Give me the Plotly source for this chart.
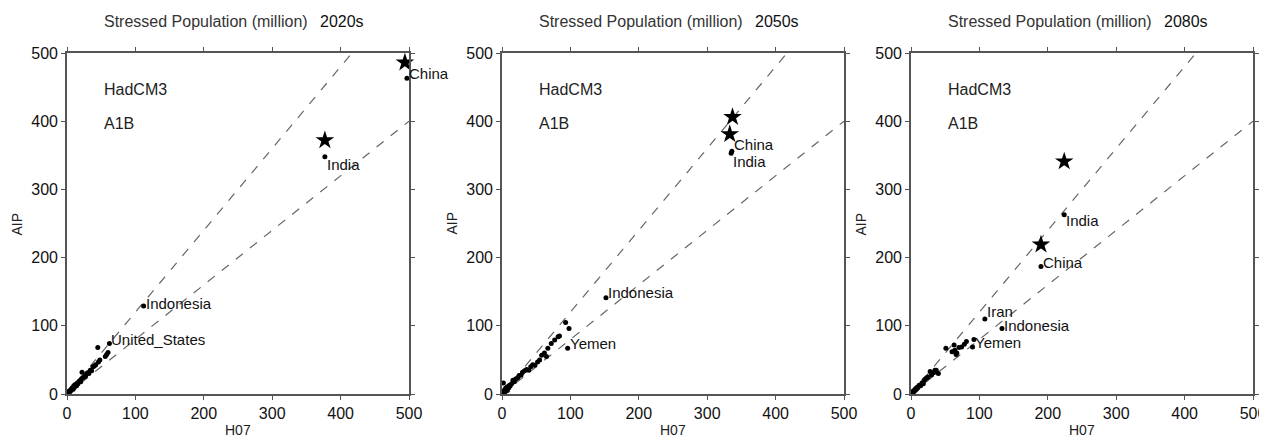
import plotly.graph_objects as go

# ---------------- data ----------------
periods = ["2020s", "2050s", "2080s"]

# 2020s
p1_x = [1, 2, 3, 4, 5, 6, 7, 8, 9, 10, 11, 12, 13, 14, 15, 16, 18, 20, 21, 22, 23, 25, 27, 28,
        30, 32, 34, 36, 38, 40, 42, 45, 46, 48, 56, 58, 60]
p1_y = [2, 1, 4, 3, 6, 5, 8, 9, 7, 12, 10, 14, 13, 12, 16, 15, 19, 18, 22, 32, 24, 25, 26, 29,
        31, 30, 35, 34, 40, 41, 43, 68, 47, 50, 55, 58, 61]
p1_lab = ["China", "India", "Indonesia", "United_States"]
p1_lab_x = [497, 377, 112, 62]
p1_lab_y = [463, 348, 129, 74]
p1_star_x = [494, 377]
p1_star_y = [486, 372]

# 2050s
p2_x = [1, 2, 2, 3, 4, 5, 6, 7, 8, 9, 10, 11, 12, 14, 16, 18, 20, 23, 25, 28, 30, 33, 36, 39,
        42, 45, 48, 52, 55, 58, 62, 65, 67, 72, 77, 82, 84, 93, 98]
p2_y = [3, 16, 1, 5, 2, 8, 6, 10, 5, 11, 9, 13, 12, 15, 20, 18, 22, 24, 27, 28, 32, 34, 36, 35,
        40, 43, 42, 47, 50, 57, 60, 55, 67, 74, 79, 84, 85, 105, 96]
p2_lab = ["China", "India", "Indonesia", "Yemen"]
p2_lab_x = [336, 335, 152, 96]
p2_lab_y = [356, 353, 141, 67]
p2_star_x = [337, 333]
p2_star_y = [406, 381]

# 2080s
p3_x = [1, 2, 3, 4, 5, 6, 7, 8, 9, 10, 12, 14, 16, 18, 19, 21, 23, 25, 28, 30, 33, 35, 37, 40,
        51, 60, 63, 64, 66, 67, 70, 74, 78, 81, 92]
p3_y = [2, 1, 4, 3, 6, 5, 8, 7, 10, 9, 13, 12, 16, 15, 20, 22, 24, 25, 33, 28, 31, 35, 35, 30,
        67, 62, 72, 64, 58, 60, 68, 69, 73, 77, 80]
p3_lab = ["India", "China", "Iran", "Indonesia", "Yemen"]
p3_lab_x = [224, 190, 108, 133, 90]
p3_lab_y = [263, 187, 110, 96, 69]
p3_star_x = [224, 190]
p3_star_y = [341, 219]

ref_slopes = [1.2, 0.8]
axis_max = 500
tick_vals = [0, 100, 200, 300, 400, 500]

panels = [
    (p1_x, p1_y, p1_lab, p1_lab_x, p1_lab_y, p1_star_x, p1_star_y),
    (p2_x, p2_y, p2_lab, p2_lab_x, p2_lab_y, p2_star_x, p2_star_y),
    (p3_x, p3_y, p3_lab, p3_lab_x, p3_lab_y, p3_star_x, p3_star_y),
]

# ---------------- styling / layout ----------------
PAGE_W, PAGE_H = 1267, 439
OFF = 8                      # default body margin of the html page
W, H = PAGE_W - OFF, PAGE_H - OFF
plot_left_px = [67 - OFF, 502 - OFF, 911 - OFF]
plot_w_px = 342
plot_top_px, plot_bot_px = 53 - OFF, 394 - OFF
# label vertical pixel shifts (placement only)
label_shift = {
    0: {"China": 5, "India": -8, "Indonesia": 3, "United_States": 4},
    1: {"China": 7, "India": -8, "Indonesia": 5, "Yemen": 5},
    2: {"India": -6, "China": 4, "Iran": 7, "Indonesia": 3, "Yemen": 4},
}
FONT = "Liberation Sans, Arial, Helvetica, sans-serif"
frame_col = "#555555"
dash_col = "#666666"

fig = go.Figure()
annotations = []
layout_axes = {}

for i, (xs, ys, labs, lx, ly, sx, sy) in enumerate(panels):
    n = "" if i == 0 else str(i + 1)
    xa, ya = "x" + n, "y" + n
    # reference lines
    for s in ref_slopes:
        xe = min(axis_max, axis_max / s)
        fig.add_trace(go.Scatter(x=[0, xe], y=[0, xe * s], mode="lines", xaxis=xa, yaxis=ya,
                                 line=dict(color=dash_col, width=1.2, dash="dash"),
                                 hoverinfo="skip", showlegend=False))
    # small points
    fig.add_trace(go.Scatter(x=xs, y=ys, mode="markers", xaxis=xa, yaxis=ya,
                             marker=dict(color="black", size=5), showlegend=False,
                             cliponaxis=True))
    # labelled points
    fig.add_trace(go.Scatter(x=lx, y=ly, mode="markers", xaxis=xa, yaxis=ya,
                             marker=dict(color="black", size=5), showlegend=False,
                             cliponaxis=False))
    # stars
    fig.add_trace(go.Scatter(x=sx, y=sy, mode="markers", xaxis=xa, yaxis=ya,
                             marker=dict(color="black", size=14, symbol="star",
                                         line=dict(width=0)),
                             showlegend=False, cliponaxis=False))
    for name, x, y in zip(labs, lx, ly):
        annotations.append(dict(x=x, y=y, xref=xa, yref=ya, text=name, showarrow=False,
                                xanchor="left", yanchor="middle", xshift=0,
                                yshift=label_shift[i].get(name, 4),
                                font=dict(family=FONT, size=15, color="#111111")))
    # panel texts
    for txt, yy in (("HadCM3", 447), ("A1B", 397)):
        annotations.append(dict(x=51, y=yy, xref=xa, yref=ya, text=txt, showarrow=False,
                                xanchor="left", yanchor="middle",
                                font=dict(family=FONT, size=16, color="#222222")))
    ty = 1 - (22 - OFF) / H
    annotations.append(dict(x=35 / plot_w_px, y=ty, xref=xa + " domain", yref="paper",
                            text="Stressed Population (million)", showarrow=False,
                            xanchor="left", yanchor="middle",
                            font=dict(family=FONT, size=16, color="#333333")))
    annotations.append(dict(x=251 / plot_w_px, y=ty, xref=xa + " domain", yref="paper",
                            text=periods[i], showarrow=False, xanchor="left", yanchor="middle",
                            font=dict(family=FONT, size=16, color="#111111")))
    annotations.append(dict(x=0.5, y=1 - (430 - OFF) / H, xref=xa + " domain", yref="paper",
                            text="H07", showarrow=False, xanchor="center", yanchor="middle",
                            font=dict(family=FONT, size=14, color="#222222")))
    annotations.append(dict(x=-51 / plot_w_px, y=0.5, xref=xa + " domain", yref=ya + " domain",
                            text="AIP", showarrow=False, textangle=-90,
                            xanchor="center", yanchor="middle",
                            font=dict(family=FONT, size=14, color="#222222")))

    dom_x = [plot_left_px[i] / W, (plot_left_px[i] + plot_w_px) / W]
    dom_y = [(H - plot_bot_px) / H, (H - plot_top_px) / H]
    common = dict(range=[0, axis_max], tickvals=tick_vals, showgrid=False, zeroline=False,
                  showline=True, mirror="ticks", linecolor=frame_col, linewidth=1.6,
                  ticks="outside", ticklen=4, tickwidth=1, tickcolor=frame_col,
                  tickfont=dict(family=FONT, size=16, color="#111111"), fixedrange=True,
                  automargin=False)
    layout_axes["xaxis" + n] = dict(domain=dom_x, anchor=ya, **common)
    layout_axes["yaxis" + n] = dict(domain=dom_y, anchor=xa, **common)

fig.update_layout(width=W, height=H, margin=dict(l=0, r=0, t=0, b=0, pad=0),
                  paper_bgcolor="white", plot_bgcolor="white",
                  annotations=annotations, showlegend=False, **layout_axes)

fig.write_html("out.html")
